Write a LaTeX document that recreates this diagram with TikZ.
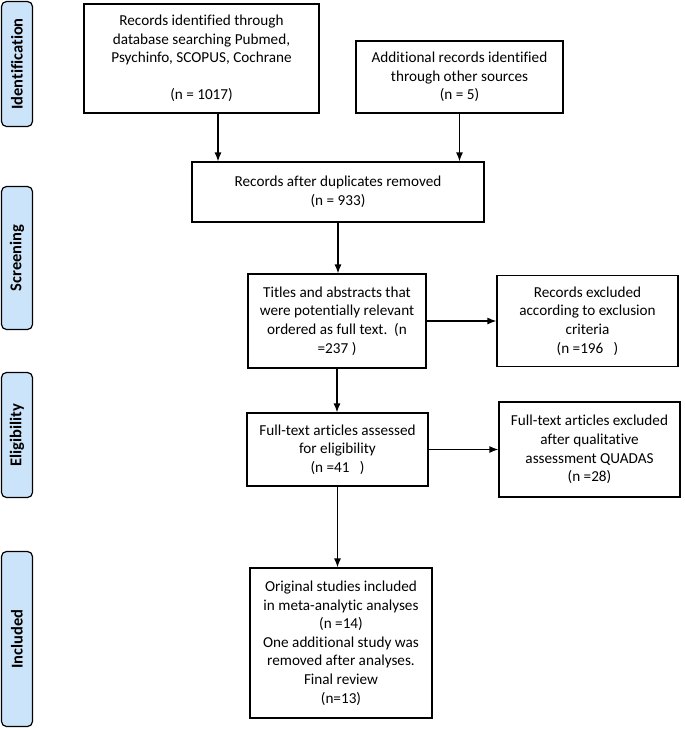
\documentclass[tikz,border=0pt]{standalone}
\usepackage{fontspec}
\setmainfont[Ligatures=CommonOff]{Carlito}
\usetikzlibrary{arrows.meta}
\definecolor{phaseblue}{RGB}{204,228,250}
\tikzset{
  box/.style={draw, line width=1.2pt, inner sep=0pt, align=center,
    font=\fontsize{15.2}{18.6}\selectfont},
  phase/.style={draw, line width=1.2pt, rounded corners=5pt, fill=phaseblue,
    inner sep=0pt, rotate=90, minimum height=31pt,
    font=\fontsize{16.5}{18}\selectfont\bfseries},
  arr/.style={line width=1.2pt, -{Latex[length=9pt,width=7pt]}}
}
\begin{document}
\begin{tikzpicture}[x=1pt,y=-1pt]
\useasboundingbox (0,0) rectangle (685,729);

%PHASES
\node[phase, minimum width=125pt] (ident) at (17,64) {Identification};
\node[phase, minimum width=143pt] (screen) at (17,258) {Screening};
\node[phase, minimum width=125pt] (elig) at (17,435) {Eligibility};
\node[phase, minimum width=175pt] (incl) at (17,639) {Included};

%BOXES
% identification
\node[box, minimum width=235pt, minimum height=109pt] (rec) at (201.5,58.5)
  {Records identified through\\ database searching Pubmed,\\ Psychinfo, SCOPUS, Cochrane\\[18.6pt] (n = 1017)};
\node[box, minimum width=207pt, minimum height=72pt] (add) at (459.5,77)
  {Additional records identified\\ through other sources\\ (n = 5)};
% screening
\node[box, minimum width=292pt, minimum height=60pt] (dup) at (338,192)
  {Records after duplicates removed\\ (n = 933)};
\node[box, minimum width=178pt, minimum height=94pt] (titles) at (337,321)
  {Titles and abstracts that\\ were potentially relevant\\ ordered as full text.~~(n\\ =237 )};
\node[box, minimum width=181pt, minimum height=91pt] (excl) at (587.5,321)
  {Records excluded\\ according to exclusion\\ criteria\\ (n =196~~~)};
% eligibility
\node[box, minimum width=181pt, minimum height=73pt] (full) at (337.5,449.5)
  {Full-text articles assessed\\ for eligibility\\ (n =41~~~)};
\node[box, minimum width=181pt, minimum height=95pt] (qual) at (589.5,449.5)
  {Full-text articles excluded\\ after qualitative\\ assessment QUADAS\\ (n =28)};
% included
\node[box, minimum width=182pt, minimum height=150pt] (final) at (341,643)
  {Original studies included\\ in meta-analytic analyses\\ (n =14)\\ One additional study was\\ removed after analyses.\\ Final review\\ (n=13)};

%ARROWS
\draw[arr] ([xshift=16.5pt]rec.south) -- ([xshift=16.5pt]rec.south |- dup.north);
\draw[arr] (add.south) -- (add.south |- dup.north);
\draw[arr] (dup.south) -- (dup.south |- titles.north);
\draw[arr] (titles.east) -- (titles.east -| excl.west);
\draw[arr] (titles.south) -- (titles.south |- full.north);
\draw[arr] (full.east) -- (full.east -| qual.west);
\draw[arr] (full.south) -- (full.south |- final.north);

\end{tikzpicture}
\end{document}
